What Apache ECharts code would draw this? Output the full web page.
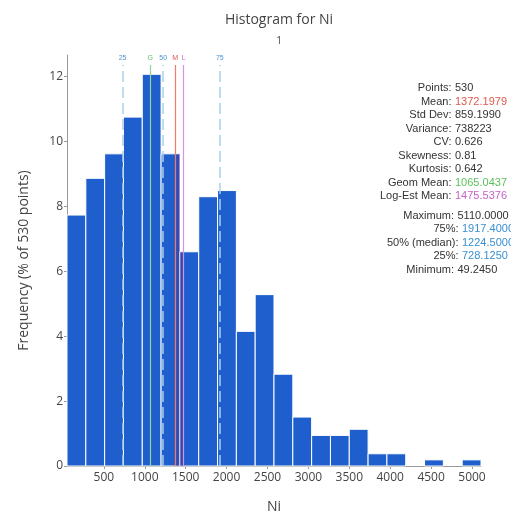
<!DOCTYPE html>
<html>
<head>
<meta charset="utf-8">
<script src="https://cdn.jsdelivr.net/npm/echarts@6/dist/echarts.min.js"></script>
<style>html,body{margin:0;padding:0;background:#fff}#c{width:511px;height:519px}</style>
</head>
<body>
<div id="c"></div>
<script>
// Bin edges (Ni) and frequencies (% of 530 points)
const binEdges = [49.245, 279.28, 509.31, 739.35, 969.38, 1199.42, 1429.45, 1659.49, 1889.52, 2119.55, 2349.59, 2579.62, 2809.66, 3039.69, 3269.73, 3499.76, 3729.80, 3959.83, 4189.86, 4419.90, 4649.93, 4879.97, 5110.00];
const freqPct = [7.736, 8.868, 9.623, 10.755, 12.075, 9.623, 6.604, 8.302, 8.491, 4.151, 5.283, 2.830, 1.509, 0.943, 0.943, 1.132, 0.377, 0.377, 0, 0.189, 0, 0.189];

// Marker lines
const markerNames = ['25', 'G', '50', 'M', 'L', '75'];
const markerValues = [728.125, 1065.0437, 1224.5, 1372.1979, 1475.5376, 1917.4];
const markerLabelColors = ['#4b93cf', '#5cbf5c', '#4b93cf', '#e2574c', '#c562c9', '#4b93cf'];
const markerLineColors = ['#a9cfea', '#92d492', '#a9cfea', '#ef7a70', '#d993de', '#a9cfea'];
const markerDashed = [true, false, true, false, false, true];

// Statistics panel
const statLabels = ['Points:', 'Mean:', 'Std Dev:', 'Variance:', 'CV:', 'Skewness:', 'Kurtosis:', 'Geom Mean:', 'Log-Est Mean:', 'Maximum:', '75%:', '50% (median):', '25%:', 'Minimum:'];
const statValues = ['530', '1372.1979', '859.1990', '738223', '0.626', '0.81', '0.642', '1065.0437', '1475.5376', '5110.0000', '1917.4000', '1224.5000', '728.1250', '49.2450'];
const statColors = ['#333', '#e2574c', '#333', '#333', '#333', '#333', '#333', '#5cbf5c', '#c562c9', '#333', '#3a8fd0', '#3a8fd0', '#3a8fd0', '#333'];

const meanVal = markerValues[3], logEstVal = markerValues[4];

const data = freqPct.map((v, i) => [binEdges[i], binEdges[i + 1], v]);

const chart = echarts.init(document.getElementById('c'), null, {renderer: 'canvas'});

const statY = [88, 101.5, 115, 128.5, 142, 155.5, 169, 182.5, 196, 215.5, 229, 242.5, 256, 269.5];
const statColX = [454, 454, 454, 454, 454, 454, 454, 454, 454, 456.5, 461, 461, 461, 456.5];
const graphics = [];
statLabels.forEach((lab, i) => {
  graphics.push({
    type: 'text', x: statColX[i] - 2.5, y: statY[i],
    style: {text: lab, fill: '#333', font: '11px "Liberation Sans"', align: 'right', verticalAlign: 'middle', textAlign: 'right', textVerticalAlign: 'middle'}
  });
  graphics.push({
    type: 'text', x: statColX[i] + 1, y: statY[i],
    style: {text: statValues[i], fill: statColors[i], font: '11px "Liberation Sans"', align: 'left', verticalAlign: 'middle', textAlign: 'left', textVerticalAlign: 'middle'}
  });
});

chart.setOption({
  animation: false,
  backgroundColor: '#fff',
  title: {
    text: 'Histogram for Ni',
    subtext: '1',
    left: 274,
    textAlign: 'center',
    top: 8,
    itemGap: 9,
    textStyle: {fontFamily: 'Open Sans', fontSize: 14, fontWeight: 'normal', color: '#444'},
    subtextStyle: {fontFamily: 'Open Sans', fontSize: 10, color: '#444'}
  },
  grid: {left: 67, right: 30, top: 55, bottom: 53, containLabel: false},
  xAxis: {
    type: 'value',
    min: 49.245,
    max: 5110,
    splitNumber: 10,
    minInterval: 500,
    maxInterval: 500,
    name: 'Ni',
    nameLocation: 'middle',
    nameGap: 34,
    nameTextStyle: {fontFamily: 'Open Sans', fontSize: 14, color: '#444'},
    axisLine: {lineStyle: {color: '#999'}},
    axisTick: {show: true, length: 3, lineStyle: {color: '#999'}},
    axisLabel: {showMinLabel: false, showMaxLabel: false, fontFamily: 'Open Sans', fontSize: 12, color: '#444', margin: 6,
      formatter: function (v) { return String(v); }},
    splitLine: {show: false}
  },
  yAxis: {
    type: 'value',
    min: 0,
    max: 12.67,
    interval: 2,
    name: 'Frequency (% of 530 points)',
    nameLocation: 'middle',
    nameGap: 36,
    nameTextStyle: {fontFamily: 'Open Sans', fontSize: 14, color: '#444'},
    axisLine: {show: true, lineStyle: {color: '#999'}},
    axisTick: {show: true, length: 3, lineStyle: {color: '#999'}},
    axisLabel: {showMaxLabel: false, fontFamily: 'Open Sans', fontSize: 12, color: '#444', margin: 4,
      formatter: function (v) { return String(v); }},
    splitLine: {show: false}
  },
  graphic: graphics,
  series: [{
    type: 'custom',
    data: data,
    encode: {x: [0, 1], y: 2},
    renderItem: function (params, api) {
      const x0 = api.value(0), x1 = api.value(1), v = api.value(2);
      if (!v) return null;
      const p0 = api.coord([x0, v]);
      const p1 = api.coord([x1, 0]);
      const children = [{
        type: 'rect',
        shape: {x: p0[0], y: p0[1], width: p1[0] - p0[0], height: p1[1] - p0[1]},
        style: {fill: '#1f5fcd', stroke: '#ffffff', lineWidth: 1}
      }];
      const a = Math.max(x0, meanVal), b = Math.min(x1, logEstVal);
      if (b > a) {
        const q0 = api.coord([a, v]);
        const q1 = api.coord([b, 0]);
        children.push({
          type: 'rect',
          shape: {x: q0[0], y: q0[1] + 0.5, width: q1[0] - q0[0], height: q1[1] - q0[1] - 0.5},
          style: {fill: 'rgba(90,40,130,0.35)'}
        });
      }
      return {type: 'group', children: children};
    },
    markLine: {
      silent: true,
      symbol: 'none',
      animation: false,
      data: markerValues.map((mv, i) => [
        {
          coord: [mv, 0],
          lineStyle: {color: markerLineColors[i], width: markerDashed[i] ? 1.5 : 1.2, type: markerDashed[i] ? [11, 5] : 'solid'},
          label: {show: true, position: 'end', formatter: markerNames[i], color: markerLabelColors[i], fontSize: 7, fontFamily: 'Liberation Sans', distance: 3}
        },
        {coord: [mv, 12.36]}
      ])
    }
  }]
});
</script>
</body>
</html>
